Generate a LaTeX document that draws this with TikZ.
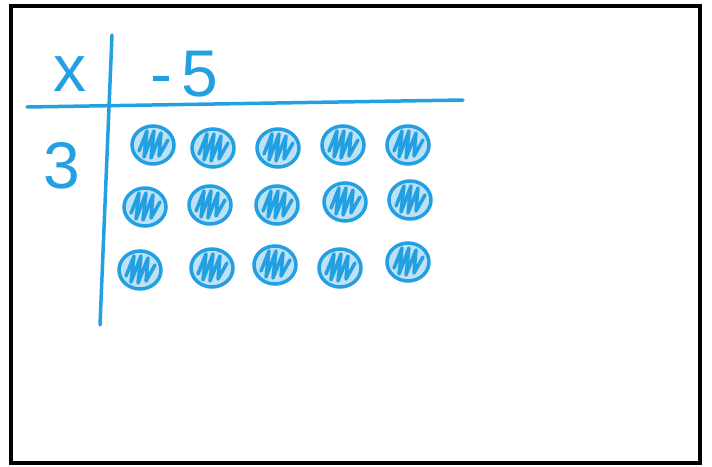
\documentclass[tikz,border=0pt]{standalone}
\usepackage{fontspec}
\setmainfont{Liberation Sans}
\usetikzlibrary{shapes.geometric}
\definecolor{marker}{RGB}{35,160,226}

\begin{document}
\begin{tikzpicture}[x=1pt, y=-1pt,
  ink/.style={draw=marker, line width=3.5pt, line cap=round},
  frame/.style={draw=black, line width=3.5pt},
  lbl/.style={text=marker, font=\fontsize{66}{66}\selectfont, inner sep=0pt},
  chip/.style={ellipse, draw=marker, fill=marker!30, line width=3.5pt, minimum width=42pt, minimum height=38pt, inner sep=0pt,
    path picture={\draw[marker, line width=3.5pt, line join=round, line cap=round, shift={(path picture bounding box.center)}]
      (-14pt,-6pt) -- (-6pt,14pt) -- (-9pt,-12pt) -- (1pt,14pt) -- (-2pt,-13pt) -- (8pt,12pt) -- (6pt,-11pt) -- (15pt,5pt);}}]
  \useasboundingbox (0,0) rectangle (712,466);
  % frame
  \coordinate (fnw) at (11,6);
  \coordinate (fse) at (700,463);
  \draw[frame] (fnw) rectangle (fse);
  % table lines
  \coordinate (vtop) at (112,35);
  \coordinate (vbot) at (100,325);
  \coordinate (hleft) at (27,107);
  \coordinate (hright) at (463,100);
  \draw[ink] (vtop) -- (vbot);
  \draw[ink] (hleft) -- (hright);
  % labels
  \node[lbl] (times) at (70,74) {x};
  \node[lbl] (factor) at (184,74) {-\kern9pt5};
  \node[lbl] (count) at (62,166) {3};
  % counters
  \foreach \n/\x/\y in {c11/153/145, c12/213/148, c13/278/148, c14/343/145, c15/408/145,
                        c21/145/207, c22/210/205, c23/277/205, c24/345/202, c25/410/200,
                        c31/140/270, c32/212/268, c33/275/265, c34/340/268, c35/408/262}
    \node[chip] (\n) at (\x,\y) {};
\end{tikzpicture}
\end{document}
